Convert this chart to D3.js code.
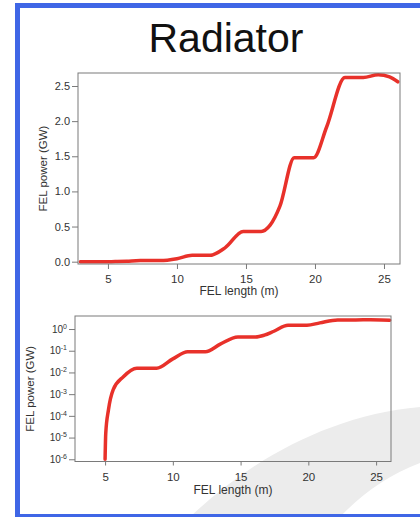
<html>
<head>
  <meta charset="utf-8">
  <title>Radiator</title>
  <style type="text/css">
    body { margin: 0; background: #fff; }
    text { font-family: "Liberation Sans", Arial, sans-serif; }
    .line {
      fill: none;
      stroke: #e8312a;
      stroke-width: 3.5;
      stroke-linejoin: round;
      stroke-linecap: round;
    }
    .box { fill: none; stroke: #7a7a7a; stroke-width: 1; }
    .axis line { stroke: #7a7a7a; }
    .axis text { fill: #333; }
  </style>
</head>
<body>
<script src="https://d3js.org/d3.v7.min.js"></script>
<script>
  // FEL length (m) and FEL power (GW)
  var lengthM = [3, 5, 5.05, 5.25, 5.6, 6.35, 7.34, 8.8, 10, 11.1, 12.4, 13.5, 14.8, 16.1, 16.75, 17.46, 18.5, 19.9, 20.85, 22.17, 23.5, 24.58, 25.4, 26.0];
  var powerGW = [0, 1e-6, 1.6e-5, 1.9e-4, 1.6e-3, 6.3e-3, 0.0155, 0.0155, 0.042, 0.09, 0.09, 0.2, 0.43, 0.43, 0.52, 0.79, 1.48, 1.48, 1.92, 2.62, 2.62, 2.66, 2.63, 2.56];

  var xTicks = [5, 10, 15, 20, 25];
  var linTicks = [0, 0.5, 1.0, 1.5, 2.0, 2.5];
  var logExp = [0, -1, -2, -3, -4, -5, -6];

  var title = "Radiator";
  var xLabel = "FEL length (m)";
  var yLabel = "FEL power (GW)";

  var W = 420, H = 517;
  var data = lengthM.map(function (d, i) { return { x: d, y: powerGW[i] }; });

  var svg = d3.select("body").append("svg")
    .attr("width", W)
    .attr("height", H);

  // slide background swoosh
  svg.append("path")
    .attr("d", "M190,517 C250,460 330,415 420,407 L420,463 Q375,480 340,517 Z")
    .attr("fill", "#ececec");

  // slide frame
  svg.append("rect").attr("x", 15).attr("y", 3).attr("width", 5).attr("height", H - 3).attr("fill", "#3f66e6");
  svg.append("rect").attr("x", 15).attr("y", 3).attr("width", W - 15).attr("height", 5).attr("fill", "#3f66e6");
  svg.append("rect").attr("x", 15).attr("y", 514).attr("width", W - 15).attr("height", 3).attr("fill", "#3f66e6");

  svg.append("text")
    .attr("x", 226)
    .attr("y", 52)
    .attr("text-anchor", "middle")
    .attr("font-size", 41)
    .attr("fill", "#111")
    .text(title);

  // ---- top chart, linear
  var box1 = { left: 78, right: 400, top: 73, bottom: 264 };
  var x1 = d3.scaleLinear().domain([2.83, 26.16]).range([box1.left, box1.right]);
  var y1 = d3.scaleLinear().domain([-0.033, 2.685]).range([box1.bottom, box1.top]);

  var line1 = d3.line()
    .x(function (d) { return x1(d.x); })
    .y(function (d) { return y1(d.y); })
    .curve(d3.curveMonotoneX);

  svg.append("path").datum(data).attr("class", "line").attr("d", line1);

  svg.append("rect").attr("class", "box")
    .attr("x", box1.left).attr("y", box1.top)
    .attr("width", box1.right - box1.left).attr("height", box1.bottom - box1.top);

  var ax1 = svg.append("g").attr("class", "axis")
    .attr("transform", "translate(0," + box1.bottom + ")")
    .call(d3.axisBottom(x1).tickValues(xTicks).tickSize(5).tickPadding(6).tickFormat(d3.format("d")));
  var ay1 = svg.append("g").attr("class", "axis")
    .attr("transform", "translate(" + box1.left + ",0)")
    .call(d3.axisLeft(y1).tickValues(linTicks).tickSize(6).tickPadding(2).tickFormat(d3.format(".1f")));
  ax1.select(".domain").remove();
  ay1.select(".domain").remove();
  ax1.selectAll("text").attr("font-size", 11.5).attr("font-family", null);
  ay1.selectAll("text").attr("font-size", 11).attr("font-family", null);

  svg.append("text")
    .attr("x", (box1.left + box1.right) / 2)
    .attr("y", 295)
    .attr("text-anchor", "middle")
    .attr("font-size", 12)
    .attr("fill", "#333")
    .text(xLabel);
  svg.append("text")
    .attr("transform", "translate(47," + (box1.top + box1.bottom) / 2 + ") rotate(-90)")
    .attr("text-anchor", "middle")
    .attr("font-size", 11.5)
    .attr("fill", "#333")
    .text(yLabel);

  // ---- bottom chart, log
  var box2 = { left: 75, right: 391, top: 316, bottom: 461.5 };
  var x2 = d3.scaleLinear().domain([2.78, 26.1]).range([box2.left, box2.right]);
  var y2 = d3.scaleLog().domain([7.9e-7, 3.98]).range([box2.bottom, box2.top]);

  var line2 = d3.line()
    .x(function (d) { return x2(d.x); })
    .y(function (d) { return y2(d.y); })
    .curve(d3.curveMonotoneX);

  svg.append("path")
    .datum(data.filter(function (d) { return d.y >= 1e-6; }))
    .attr("class", "line")
    .attr("d", line2);

  svg.append("rect").attr("class", "box")
    .attr("x", box2.left).attr("y", box2.top)
    .attr("width", box2.right - box2.left).attr("height", box2.bottom - box2.top);

  var ax2 = svg.append("g").attr("class", "axis")
    .attr("transform", "translate(0," + box2.bottom + ")")
    .call(d3.axisBottom(x2).tickValues(xTicks).tickSize(4).tickPadding(7).tickFormat(d3.format("d")));
  var ay2 = svg.append("g").attr("class", "axis")
    .attr("transform", "translate(" + box2.left + ",0)")
    .call(d3.axisLeft(y2).tickValues(logExp.map(function (e) { return Math.pow(10, e); })).tickSize(6).tickPadding(2).tickFormat(""));
  ax2.select(".domain").remove();
  ay2.select(".domain").remove();
  ax2.selectAll("text").attr("font-size", 11.5).attr("font-family", null);

  ay2.selectAll(".tick text").each(function (d, i) {
    var t = d3.select(this).attr("font-size", 10).attr("font-family", null);
    t.append("tspan").text("10");
    t.append("tspan").attr("dy", -4).attr("font-size", 7).text(logExp[i]);
  });

  svg.append("text")
    .attr("x", (box2.left + box2.right) / 2)
    .attr("y", 494)
    .attr("text-anchor", "middle")
    .attr("font-size", 12)
    .attr("fill", "#333")
    .text(xLabel);
  svg.append("text")
    .attr("transform", "translate(34," + (box2.top + box2.bottom) / 2 + ") rotate(-90)")
    .attr("text-anchor", "middle")
    .attr("font-size", 11.5)
    .attr("fill", "#333")
    .text(yLabel);
</script>
</body>
</html>
